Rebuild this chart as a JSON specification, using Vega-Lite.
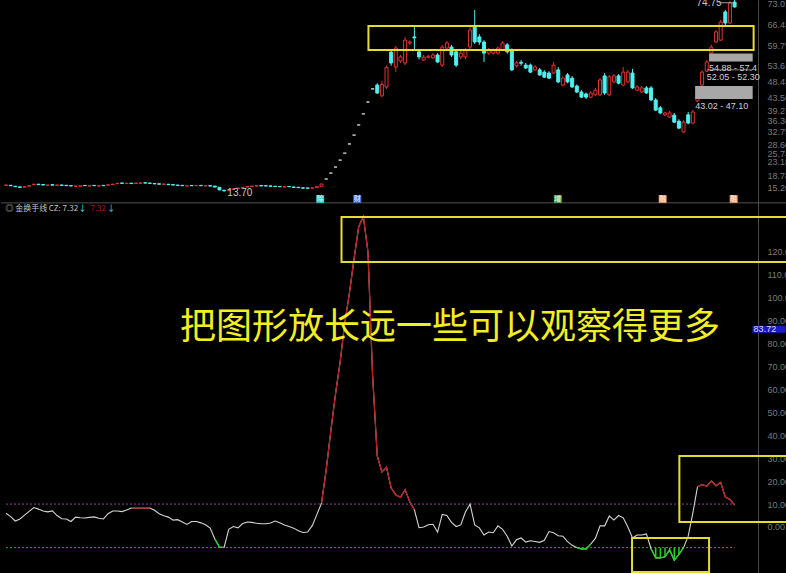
{
  "$schema": "https://vega.github.io/schema/vega-lite/v6.json",
  "width": 786,
  "height": 573,
  "autosize": "none",
  "padding": 0,
  "background": "#000000",
  "config": {
    "view": {"stroke": null},
    "font": "Liberation Sans",
    "axis": {"domainColor": "#4a4a4a", "domainWidth": 1, "ticks": false, "labelColor": "#7a7a7a", "labelFontSize": 9, "labelPadding": 9, "grid": false, "labelAlign": "left", "labelBaseline": "middle", "labelOverlap": false, "labelFlush": false}
  },
  "datasets": {
    "k": [
      {"i":0,"o":15.7,"h":15.92,"l":15.62,"c":15.84},{"i":1,"o":15.75,"h":15.8,"l":15.52,"c":15.6},{"i":2,"o":15.45,"h":15.5,"l":15.22,"c":15.3},{"i":3,"o":15.25,"h":15.3,"l":15.03,"c":15.11},{"i":4,"o":15.16,"h":15.38,"l":15.08,"c":15.3},{"i":5,"o":15.45,"h":15.68,"l":15.38,"c":15.6},{"i":6,"o":15.95,"h":16.18,"l":15.88,"c":16.1},{"i":7,"o":16.1,"h":16.15,"l":15.87,"c":15.95},{"i":8,"o":15.98,"h":16.02,"l":15.76,"c":15.84},{"i":9,"o":15.72,"h":15.92,"l":15.66,"c":15.84},
      {"i":10,"o":15.94,"h":15.98,"l":15.72,"c":15.8},{"i":11,"o":15.72,"h":15.92,"l":15.66,"c":15.84},{"i":12,"o":15.84,"h":15.9,"l":15.62,"c":15.7},{"i":13,"o":15.75,"h":15.8,"l":15.55,"c":15.62},{"i":14,"o":15.66,"h":15.72,"l":15.48,"c":15.55},{"i":15,"o":15.42,"h":15.6,"l":15.36,"c":15.52},{"i":16,"o":15.48,"h":15.68,"l":15.42,"c":15.6},{"i":17,"o":15.7,"h":15.76,"l":15.55,"c":15.62},{"i":18,"o":15.52,"h":15.7,"l":15.46,"c":15.62},{"i":19,"o":15.72,"h":15.78,"l":15.55,"c":15.62},
      {"i":20,"o":15.52,"h":15.7,"l":15.46,"c":15.62},{"i":21,"o":15.72,"h":15.78,"l":15.55,"c":15.62},{"i":22,"o":15.78,"h":15.98,"l":15.72,"c":15.9},{"i":23,"o":15.98,"h":16.18,"l":15.92,"c":16.1},{"i":24,"o":16.25,"h":16.45,"l":16.18,"c":16.37},{"i":25,"o":16.48,"h":16.52,"l":16.3,"c":16.37},{"i":26,"o":16.3,"h":16.48,"l":16.24,"c":16.4},{"i":27,"o":16.42,"h":16.5,"l":16.22,"c":16.3},{"i":28,"o":16.33,"h":16.53,"l":16.27,"c":16.45},{"i":29,"o":16.38,"h":16.55,"l":16.3,"c":16.47},
      {"i":30,"o":16.55,"h":16.6,"l":16.38,"c":16.45},{"i":31,"o":16.46,"h":16.5,"l":16.28,"c":16.35},{"i":32,"o":16.32,"h":16.38,"l":16.12,"c":16.2},{"i":33,"o":16.22,"h":16.28,"l":16.02,"c":16.1},{"i":34,"o":16.05,"h":16.22,"l":15.98,"c":16.15},{"i":35,"o":16.08,"h":16.14,"l":15.88,"c":15.95},{"i":36,"o":15.95,"h":16.0,"l":15.76,"c":15.84},{"i":37,"o":15.82,"h":15.88,"l":15.62,"c":15.7},{"i":38,"o":15.74,"h":15.8,"l":15.55,"c":15.62},{"i":39,"o":15.55,"h":15.7,"l":15.48,"c":15.62},
      {"i":40,"o":15.7,"h":15.76,"l":15.55,"c":15.62},{"i":41,"o":15.6,"h":15.78,"l":15.54,"c":15.7},{"i":42,"o":15.72,"h":15.78,"l":15.55,"c":15.62},{"i":43,"o":15.55,"h":15.7,"l":15.48,"c":15.62},{"i":44,"o":15.62,"h":15.68,"l":15.44,"c":15.52},{"i":45,"o":15.5,"h":15.55,"l":15.12,"c":15.2},{"i":46,"o":15.1,"h":15.15,"l":14.2,"c":14.3},{"i":47,"o":14.2,"h":14.3,"l":13.7,"c":14.03},{"i":48,"o":14.05,"h":14.5,"l":13.98,"c":14.4},{"i":49,"o":14.45,"h":14.68,"l":14.38,"c":14.6},
      {"i":50,"o":14.7,"h":14.98,"l":14.62,"c":14.9},{"i":51,"o":14.98,"h":15.18,"l":14.9,"c":15.1},{"i":52,"o":15.2,"h":15.42,"l":15.12,"c":15.35},{"i":53,"o":15.38,"h":15.58,"l":15.3,"c":15.5},{"i":54,"o":15.5,"h":15.68,"l":15.44,"c":15.6},{"i":55,"o":15.66,"h":15.72,"l":15.48,"c":15.55},{"i":56,"o":15.6,"h":15.66,"l":15.45,"c":15.52},{"i":57,"o":15.55,"h":15.6,"l":15.38,"c":15.45},{"i":58,"o":15.44,"h":15.5,"l":15.28,"c":15.35},{"i":59,"o":15.38,"h":15.44,"l":15.22,"c":15.3},
      {"i":60,"o":15.22,"h":15.38,"l":15.16,"c":15.3},{"i":61,"o":15.38,"h":15.44,"l":15.22,"c":15.3},{"i":62,"o":15.22,"h":15.28,"l":15.02,"c":15.1},{"i":63,"o":15.12,"h":15.18,"l":14.92,"c":15.0},{"i":64,"o":14.95,"h":15.0,"l":14.78,"c":14.85},{"i":65,"o":14.9,"h":14.96,"l":14.72,"c":14.8},{"i":66,"o":14.82,"h":15.02,"l":14.76,"c":14.95},{"i":67,"o":14.98,"h":15.5,"l":14.92,"c":15.4},{"i":68,"o":15.45,"h":16.25,"l":15.4,"c":16.15},{"i":69,"o":17.73,"h":17.73,"l":17.73,"c":17.73},
      {"i":70,"o":19.6,"h":19.6,"l":19.6,"c":19.6},{"i":71,"o":21.5,"h":21.5,"l":21.5,"c":21.5},{"i":72,"o":23.7,"h":23.7,"l":23.7,"c":23.7},{"i":73,"o":25.9,"h":25.9,"l":25.9,"c":25.9},{"i":74,"o":28.8,"h":28.8,"l":28.8,"c":28.8},{"i":75,"o":31.6,"h":31.6,"l":31.6,"c":31.6},{"i":76,"o":34.8,"h":34.8,"l":34.8,"c":34.8},{"i":77,"o":38.3,"h":38.3,"l":38.3,"c":38.3},{"i":78,"o":42.05,"h":42.05,"l":42.05,"c":42.05},{"i":79,"o":46.2,"h":46.2,"l":46.2,"c":46.2},
      {"i":80,"o":47.4,"h":48.0,"l":44.6,"c":44.9},{"i":81,"o":44.0,"h":48.6,"l":43.6,"c":47.6},{"i":82,"o":46.8,"h":53.5,"l":46.2,"c":53.0},{"i":83,"o":57.8,"h":58.5,"l":53.5,"c":54.4},{"i":84,"o":53.1,"h":59.8,"l":51.6,"c":59.1},{"i":85,"o":55.0,"h":56.9,"l":54.4,"c":56.3},{"i":86,"o":54.4,"h":62.6,"l":53.7,"c":61.6},{"i":87,"o":60.7,"h":61.5,"l":60.0,"c":61.0},{"i":88,"o":62.6,"h":65.7,"l":58.5,"c":62.3},{"i":89,"o":57.9,"h":58.8,"l":55.5,"c":56.3},
      {"i":90,"o":55.3,"h":56.9,"l":55.0,"c":56.2},{"i":91,"o":56.2,"h":56.9,"l":55.8,"c":56.5},{"i":92,"o":56.0,"h":57.5,"l":55.6,"c":56.9},{"i":93,"o":56.9,"h":57.5,"l":54.4,"c":54.7},{"i":94,"o":53.7,"h":60.1,"l":53.1,"c":59.4},{"i":95,"o":59.1,"h":61.3,"l":58.5,"c":60.7},{"i":96,"o":59.4,"h":60.1,"l":56.3,"c":56.9},{"i":97,"o":57.9,"h":58.5,"l":53.1,"c":53.7},{"i":98,"o":56.3,"h":58.2,"l":55.6,"c":57.5},{"i":99,"o":56.3,"h":59.1,"l":55.6,"c":58.5},
      {"i":100,"o":59.4,"h":65.7,"l":58.8,"c":64.8},{"i":101,"o":65.7,"h":71.1,"l":60.4,"c":61.0},{"i":102,"o":62.6,"h":63.5,"l":60.1,"c":61.0},{"i":103,"o":61.0,"h":61.6,"l":54.7,"c":57.5},{"i":104,"o":57.5,"h":59.1,"l":57.0,"c":58.5},{"i":105,"o":57.5,"h":59.0,"l":57.0,"c":58.5},{"i":106,"o":57.5,"h":59.6,"l":57.0,"c":59.1},{"i":107,"o":58.5,"h":61.3,"l":58.2,"c":60.7},{"i":108,"o":60.1,"h":60.7,"l":57.3,"c":57.9},{"i":109,"o":58.5,"h":59.0,"l":51.8,"c":52.2},
      {"i":110,"o":53.5,"h":55.0,"l":53.0,"c":54.4},{"i":111,"o":54.6,"h":55.3,"l":53.5,"c":54.3},{"i":112,"o":53.7,"h":54.4,"l":52.5,"c":52.8},{"i":113,"o":53.7,"h":54.2,"l":51.2,"c":51.5},{"i":114,"o":52.2,"h":53.7,"l":51.8,"c":53.1},{"i":115,"o":52.2,"h":52.8,"l":50.3,"c":50.6},{"i":116,"o":51.5,"h":52.1,"l":49.6,"c":49.9},{"i":117,"o":51.2,"h":51.8,"l":49.3,"c":49.6},{"i":118,"o":51.2,"h":54.7,"l":50.9,"c":53.7},{"i":119,"o":52.2,"h":53.1,"l":48.0,"c":48.4},
      {"i":120,"o":47.4,"h":50.2,"l":47.0,"c":49.6},{"i":121,"o":50.6,"h":51.2,"l":48.0,"c":48.4},{"i":122,"o":49.6,"h":50.2,"l":46.5,"c":46.8},{"i":123,"o":47.1,"h":47.6,"l":44.9,"c":45.2},{"i":124,"o":45.2,"h":45.8,"l":43.3,"c":43.6},{"i":125,"o":44.6,"h":45.0,"l":43.0,"c":43.6},{"i":126,"o":43.6,"h":45.5,"l":43.3,"c":44.9},{"i":127,"o":44.3,"h":46.5,"l":44.0,"c":45.8},{"i":128,"o":44.3,"h":49.6,"l":44.0,"c":49.0},{"i":129,"o":50.3,"h":51.2,"l":44.3,"c":44.9},
      {"i":130,"o":44.3,"h":50.6,"l":43.9,"c":50.0},{"i":131,"o":48.4,"h":50.9,"l":48.0,"c":50.3},{"i":132,"o":50.3,"h":50.9,"l":47.6,"c":48.0},{"i":133,"o":47.4,"h":53.1,"l":47.0,"c":51.5},{"i":134,"o":48.4,"h":52.2,"l":48.0,"c":51.5},{"i":135,"o":51.2,"h":52.5,"l":46.2,"c":46.5},{"i":136,"o":45.8,"h":47.4,"l":45.5,"c":46.8},{"i":137,"o":45.2,"h":47.1,"l":44.9,"c":46.5},{"i":138,"o":46.5,"h":47.1,"l":44.6,"c":44.9},{"i":139,"o":46.5,"h":47.1,"l":42.3,"c":42.7},
      {"i":140,"o":42.7,"h":43.3,"l":39.2,"c":39.5},{"i":141,"o":40.2,"h":40.8,"l":38.2,"c":38.6},{"i":142,"o":38.0,"h":39.0,"l":37.6,"c":38.6},{"i":143,"o":37.3,"h":39.2,"l":37.0,"c":38.6},{"i":144,"o":37.9,"h":38.6,"l":35.4,"c":35.7},{"i":145,"o":36.0,"h":36.6,"l":33.5,"c":33.8},{"i":146,"o":32.6,"h":36.3,"l":32.3,"c":35.7},{"i":147,"o":38.0,"h":38.9,"l":35.0,"c":35.4},{"i":148,"o":35.4,"h":39.5,"l":35.0,"c":38.9},{"i":149,"o":42.4,"h":46.8,"l":42.0,"c":46.2},
      {"i":150,"o":47.4,"h":52.0,"l":47.1,"c":51.5},{"i":151,"o":51.8,"h":55.3,"l":51.5,"c":54.7},{"i":152,"o":57.5,"h":60.1,"l":55.5,"c":59.4},{"i":153,"o":61.0,"h":64.8,"l":60.7,"c":64.2},{"i":154,"o":61.6,"h":68.0,"l":61.3,"c":67.3},{"i":155,"o":70.5,"h":71.1,"l":66.0,"c":67.0},{"i":156,"o":67.0,"h":74.0,"l":66.7,"c":73.3},{"i":157,"o":73.6,"h":74.75,"l":71.8,"c":72.1}
    ],
    "cz": [
      {"i":0,"v":6.0},{"i":1,"v":4.5},{"i":2,"v":2.6},{"i":3,"v":3.5},{"i":4,"v":5.2},{"i":5,"v":6.8},{"i":6,"v":8.5},{"i":7,"v":7.8},{"i":8,"v":7.0},{"i":9,"v":6.6},
      {"i":10,"v":7.0},{"i":11,"v":5.0},{"i":12,"v":3.6},{"i":13,"v":3.5},{"i":14,"v":2.4},{"i":15,"v":4.3},{"i":16,"v":4.0},{"i":17,"v":3.9},{"i":18,"v":4.2},{"i":19,"v":4.4},
      {"i":20,"v":3.8},{"i":21,"v":3.5},{"i":22,"v":5.8},{"i":23,"v":7.0},{"i":24,"v":7.0},{"i":25,"v":6.7},{"i":26,"v":7.4},{"i":27,"v":8.3,"s":"r1"},{"i":28,"v":8.4,"s":"r1"},{"i":29,"v":8.3,"s":"r1"},
      {"i":30,"v":8.4,"s":"r1"},{"i":31,"v":8.3,"s":"r1"},{"i":32,"v":7.3},{"i":33,"v":5.8},{"i":34,"v":4.9},{"i":35,"v":4.3},{"i":36,"v":3.0},{"i":37,"v":3.2},{"i":38,"v":2.2},{"i":39,"v":1.1},
      {"i":40,"v":2.4},{"i":41,"v":2.4},{"i":42,"v":1.8},{"i":43,"v":1.0},{"i":44,"v":-0.5},{"i":45,"v":-5.2,"s":"g1"},{"i":46,"v":-8.8,"s":"g1"},{"i":47,"v":-8.9,"s":"g1"},{"i":48,"v":-1.0},{"i":49,"v":0.2},
      {"i":50,"v":-0.4},{"i":51,"v":1.5},{"i":52,"v":2.2},{"i":53,"v":2.0},{"i":54,"v":1.6},{"i":55,"v":1.4},{"i":56,"v":1.4},{"i":57,"v":1.7},{"i":58,"v":2.6},{"i":59,"v":1.8},
      {"i":60,"v":0.9},{"i":61,"v":0.2},{"i":62,"v":-0.5},{"i":63,"v":-1.6},{"i":64,"v":-2.4},{"i":65,"v":-2.2},{"i":66,"v":0.6},{"i":67,"v":5.5},{"i":68,"v":10.5,"s":"r2"},{"i":69,"v":25,"s":"r2"},
      {"i":70,"v":42,"s":"r2"},{"i":71,"v":58,"s":"r2"},{"i":72,"v":72,"s":"r2"},{"i":73,"v":89,"s":"r2"},{"i":74,"v":102,"s":"r2"},{"i":75,"v":117,"s":"r2"},{"i":76,"v":131,"s":"r2"},{"i":77,"v":135.5,"s":"r2"},{"i":78,"v":120,"s":"r2"},{"i":79,"v":66,"s":"r2"},
      {"i":80,"v":31,"s":"r2"},{"i":81,"v":24,"s":"r2"},{"i":82,"v":26,"s":"r2"},{"i":83,"v":17,"s":"r2"},{"i":84,"v":14,"s":"r2"},{"i":85,"v":13,"s":"r2"},{"i":86,"v":16.3,"s":"r2"},{"i":87,"v":11,"s":"r2"},{"i":88,"v":7.5,"s":"r2"},{"i":89,"v":-0.3},
      {"i":90,"v":0.0},{"i":91,"v":1.0},{"i":92,"v":1.2},{"i":93,"v":-2.2},{"i":94,"v":5.5},{"i":95,"v":5.0},{"i":96,"v":2.0},{"i":97,"v":0.2},{"i":98,"v":0.9},{"i":99,"v":6.5},
      {"i":100,"v":10.0},{"i":101,"v":0.9},{"i":102,"v":-0.4},{"i":103,"v":-3.5},{"i":104,"v":-2.2},{"i":105,"v":-2.5},{"i":106,"v":0.5},{"i":107,"v":-1.0},{"i":108,"v":-4.0},{"i":109,"v":-8.3},
      {"i":110,"v":-5.6},{"i":111,"v":-4.8},{"i":112,"v":-6.6},{"i":113,"v":-6.0},{"i":114,"v":-6.3},{"i":115,"v":-6.7},{"i":116,"v":-5.8},{"i":117,"v":-2.0},{"i":118,"v":-2.5},{"i":119,"v":-3.8},
      {"i":120,"v":-4.0},{"i":121,"v":-6.4},{"i":122,"v":-8.0},{"i":123,"v":-9.0,"s":"g2"},{"i":124,"v":-9.6,"s":"g2"},{"i":125,"v":-9.6,"s":"g2"},{"i":126,"v":-7.5,"s":"g2"},{"i":127,"v":-5.0},{"i":128,"v":0.5},{"i":129,"v":0.5},
      {"i":130,"v":4.8},{"i":131,"v":3.0},{"i":132,"v":5.0},{"i":133,"v":4.0},{"i":134,"v":0.0},{"i":135,"v":-4.8},{"i":136,"v":-3.5},{"i":137,"v":-3.5},{"i":138,"v":-3.0},{"i":139,"v":-9.5,"s":"g3"},
      {"i":140,"v":-13.5,"s":"g3"},{"i":141,"v":-13.5,"s":"g3"},{"i":142,"v":-13.0,"s":"g3"},{"i":143,"v":-10.0,"s":"g3"},{"i":144,"v":-14.5,"s":"g3"},{"i":145,"v":-12.0,"s":"g3"},{"i":146,"v":-9.0,"s":"g3"},{"i":147,"v":-4.0},{"i":148,"v":6.0},{"i":149,"v":17.5,"s":"r3"},
      {"i":150,"v":18.5,"s":"r3"},{"i":151,"v":17.8,"s":"r3"},{"i":152,"v":20.0,"s":"r3"},{"i":153,"v":18.0,"s":"r3"},{"i":154,"v":19.5,"s":"r3"},{"i":155,"v":13.0,"s":"r3"},{"i":156,"v":12.0,"s":"r3"},{"i":157,"v":9.6,"s":"r3"}
    ],
    "zones": [
      {"lo":54.88,"hi":57.4,"label":"54.88 - 57.4","from":151.5},
      {"lo":52.05,"hi":52.30,"label":"52.05 - 52.30","from":151.0},
      {"lo":43.02,"hi":47.10,"label":"43.02 - 47.10","from":148.5}
    ],
    "flags": [
      {"i":67.7,"t":"除"},{"i":75.7,"t":"财"},{"i":118.9,"t":"增"},{"i":141.5,"t":"融"},{"i":156.8,"t":"融"}
    ],
    "boxes": [
      {"x1":72.3,"x2":170,"y1":115.6,"y2":135.3},
      {"x1":145.1,"x2":170,"y1":2.2,"y2":31.0},
      {"x1":134.9,"x2":151.5,"y1":-19.6,"y2":-4.8}
    ],
    "header": [
      {"t":"◎ 金换手线","x":-0.1,"k":"cjk"},
      {"t":"CZ: 7.32","x":9.2,"k":"w"},
      {"t":"↓","x":15.6,"k":"a"},
      {"t":"7.32","x":18.2,"k":"r"},
      {"t":"↓","x":21.8,"k":"a"}
    ]
  },
  "layer": [
    {
      "data": {"name": "k"},
      "mark": {"type": "rule", "strokeWidth": 1},
      "encoding": {
        "x": {"field": "i", "type": "quantitative", "scale": {"domain": [-0.213, 167.0], "nice": false, "zero": false}, "axis": null},
        "y": {"field": "l", "type": "quantitative", "title": null, "scale": {"domain": [-106.7, 74.27], "nice": false, "zero": false},
              "axis": {"orient": "right", "offset": -28, "values": [73.01, 66.43, 59.79, 53.61, 48.43, 43.56, 39.27, 36.36, 32.75, 28.60, 25.74, 23.18, 18.78, 15.20], "format": ".2f"}},
        "y2": {"field": "h"},
        "color": {"condition": [{"test": "datum.c > datum.o", "value": "#e03232"}, {"test": "datum.c < datum.o", "value": "#50f0f0"}], "value": "#c8c8c8"}
      }
    },
    {
      "data": {"name": "k"},
      "mark": {"type": "bar", "width": 3, "strokeWidth": 1},
      "encoding": {
        "x": {"field": "i", "type": "quantitative", "axis": null},
        "y": {"field": "o", "type": "quantitative", "title": null, "scale": {"domain": [-106.7, 74.27], "nice": false, "zero": false}, "axis": null},
        "y2": {"field": "c"},
        "fill": {"condition": [{"test": "datum.c > datum.o", "value": "#000000"}, {"test": "datum.c < datum.o", "value": "#50f0f0"}], "value": "#c8c8c8"},
        "stroke": {"condition": [{"test": "datum.c > datum.o", "value": "#e03232"}, {"test": "datum.c < datum.o", "value": "#50f0f0"}], "value": "#c8c8c8"}
      }
    },
    {
      "data": {"name": "zones"},
      "mark": {"type": "rect", "color": "#a8a8a8"},
      "encoding": {
        "x": {"field": "from", "type": "quantitative", "axis": null},
        "x2": {"datum": 160.9},
        "y": {"field": "hi", "type": "quantitative", "title": null, "scale": {"domain": [-106.7, 74.27], "nice": false, "zero": false}, "axis": null},
        "y2": {"field": "lo"}
      }
    },
    {
      "data": {"name": "zones"},
      "mark": {"type": "text", "align": "left", "baseline": "middle", "dy": 7, "fontSize": 9, "color": "#d0d0d0"},
      "encoding": {
        "x": {"field": "from", "type": "quantitative", "axis": null},
        "y": {"field": "lo", "type": "quantitative", "title": null, "scale": {"domain": [-106.7, 74.27], "nice": false, "zero": false}, "axis": null},
        "text": {"field": "label"}
      }
    },
    {
      "data": {"values": [{"a": 78.1, "b": 161.1, "lo": 58.48, "hi": 66.06}]},
      "mark": {"type": "rect", "fillOpacity": 0, "stroke": "#e4dc30", "strokeWidth": 2},
      "encoding": {
        "x": {"field": "a", "type": "quantitative", "axis": null},
        "x2": {"field": "b"},
        "y": {"field": "hi", "type": "quantitative", "title": null, "scale": {"domain": [-106.7, 74.27], "nice": false, "zero": false}, "axis": null},
        "y2": {"field": "lo"}
      }
    },
    {
      "data": {"values": [{"t": "74.75", "x": 151.5, "p": 73.2}, {"t": "13.70", "x": 50.4, "p": 13.4}]},
      "mark": {"type": "text", "align": "center", "baseline": "middle", "fontSize": 10, "color": "#c8c8c8"},
      "encoding": {
        "x": {"field": "x", "type": "quantitative", "axis": null},
        "y": {"field": "p", "type": "quantitative", "title": null, "scale": {"domain": [-106.7, 74.27], "nice": false, "zero": false}, "axis": null},
        "text": {"field": "t"}
      }
    },
    {
      "data": {"values": [{"a": 153.6, "b": 156.6, "p": 73.4}]},
      "mark": {"type": "rule", "color": "#a0a0a0", "strokeWidth": 1},
      "encoding": {
        "x": {"field": "a", "type": "quantitative", "axis": null},
        "x2": {"field": "b"},
        "y": {"field": "p", "type": "quantitative", "title": null, "scale": {"domain": [-106.7, 74.27], "nice": false, "zero": false}, "axis": null}
      }
    },
    {
      "data": {"values": [{"a": -1, "b": 170, "p": 10.2}]},
      "mark": {"type": "rule", "color": "#505050", "strokeWidth": 1},
      "encoding": {
        "x": {"field": "a", "type": "quantitative", "axis": null},
        "x2": {"field": "b"},
        "y": {"field": "p", "type": "quantitative", "title": null, "scale": {"domain": [-106.7, 74.27], "nice": false, "zero": false}, "axis": null}
      }
    },
    {
      "data": {"name": "flags"},
      "mark": {"type": "square", "size": 64, "filled": true, "opacity": 1},
      "encoding": {
        "x": {"field": "i", "type": "quantitative", "axis": null},
        "y": {"datum": 11.4, "type": "quantitative", "title": null, "scale": {"domain": [-106.7, 74.27], "nice": false, "zero": false}, "axis": null},
        "color": {"condition": [{"test": "datum.t === '除'", "value": "#2ab4c4"}, {"test": "datum.t === '财'", "value": "#3a6cd8"}, {"test": "datum.t === '增'", "value": "#3fa046"}], "value": "#e88a50"}
      }
    },
    {
      "data": {"name": "flags"},
      "mark": {"type": "text", "fontSize": 7, "color": "#ffffff", "font": "Noto Sans CJK SC", "baseline": "middle", "align": "center"},
      "encoding": {
        "x": {"field": "i", "type": "quantitative", "axis": null},
        "y": {"datum": 11.4, "type": "quantitative", "title": null, "scale": {"domain": [-106.7, 74.27], "nice": false, "zero": false}, "axis": null},
        "text": {"field": "t"}
      }
    },
    {
      "data": {"values": [{"a": 0, "b": 157, "v": 10}]},
      "mark": {"type": "rule", "color": "#a034a8", "strokeWidth": 1, "strokeDash": [2, 2]},
      "encoding": {
        "x": {"field": "a", "type": "quantitative", "axis": null},
        "x2": {"field": "b"},
        "y": {"field": "v", "type": "quantitative", "title": null, "scale": {"domain": [-20.08, 229.96], "nice": false, "zero": false},
              "axis": {"orient": "right", "offset": -28, "values": [0, 10, 20, 30, 40, 50, 60, 70, 80, 90, 100, 110, 120], "format": ".2f"}}
      }
    },
    {
      "data": {"values": [{"a": 0, "b": 157, "v": -9}]},
      "mark": {"type": "rule", "color": "#22a82a", "strokeWidth": 1, "strokeDash": [2, 2]},
      "encoding": {
        "x": {"field": "a", "type": "quantitative", "axis": null},
        "x2": {"field": "b"},
        "y": {"field": "v", "type": "quantitative", "title": null, "scale": {"domain": [-20.08, 229.96], "nice": false, "zero": false}, "axis": null}
      }
    },
    {
      "data": {"name": "cz"},
      "transform": [{"filter": "datum.v < -9"}],
      "mark": {"type": "rule", "color": "#22d022", "strokeWidth": 1.5},
      "encoding": {
        "x": {"field": "i", "type": "quantitative", "axis": null},
        "y": {"field": "v", "type": "quantitative", "title": null, "scale": {"domain": [-20.08, 229.96], "nice": false, "zero": false}, "axis": null},
        "y2": {"datum": -9}
      }
    },
    {
      "data": {"name": "cz"},
      "mark": {"type": "line", "color": "#d4d4d4", "strokeWidth": 1.1},
      "encoding": {
        "x": {"field": "i", "type": "quantitative", "axis": null},
        "y": {"field": "v", "type": "quantitative", "title": null, "scale": {"domain": [-20.08, 229.96], "nice": false, "zero": false}, "axis": null}
      }
    },
    {
      "data": {"name": "cz"},
      "transform": [{"filter": "isValid(datum.s)"}],
      "mark": {"type": "line", "strokeWidth": 1.3},
      "encoding": {
        "x": {"field": "i", "type": "quantitative", "axis": null},
        "y": {"field": "v", "type": "quantitative", "title": null, "scale": {"domain": [-20.08, 229.96], "nice": false, "zero": false}, "axis": null},
        "detail": {"field": "s", "type": "nominal"},
        "color": {"condition": {"test": "indexof(datum.s, 'r') === 0", "value": "#b81c1c"}, "value": "#22cc22"}
      }
    },
    {
      "data": {"name": "boxes"},
      "mark": {"type": "rect", "fillOpacity": 0, "stroke": "#e4dc30", "strokeWidth": 2},
      "encoding": {
        "x": {"field": "x1", "type": "quantitative", "axis": null},
        "x2": {"field": "x2"},
        "y": {"field": "y1", "type": "quantitative", "title": null, "scale": {"domain": [-20.08, 229.96], "nice": false, "zero": false}, "axis": null},
        "y2": {"field": "y2"}
      }
    },
    {
      "data": {"values": [{"t": "把图形放长远一些可以观察得更多", "x": 95.7, "v": 86.8}]},
      "mark": {"type": "text", "align": "center", "baseline": "middle", "fontSize": 36, "font": "Noto Sans CJK SC", "color": "#f2ee22"},
      "encoding": {
        "x": {"field": "x", "type": "quantitative", "axis": null},
        "y": {"field": "v", "type": "quantitative", "title": null, "scale": {"domain": [-20.08, 229.96], "nice": false, "zero": false}, "axis": null},
        "text": {"field": "t"}
      }
    },
    {
      "data": {"name": "header"},
      "mark": {"type": "text", "align": "left", "baseline": "middle", "fontSize": 8, "font": "Noto Sans CJK SC"},
      "encoding": {
        "x": {"field": "x", "type": "quantitative", "axis": null},
        "y": {"datum": 138.8, "type": "quantitative", "title": null, "scale": {"domain": [-20.08, 229.96], "nice": false, "zero": false}, "axis": null},
        "text": {"field": "t"},
        "color": {"condition": [{"test": "datum.k === 'a'", "value": "#40e0e0"}, {"test": "datum.k === 'r'", "value": "#b01818"}], "value": "#c4c4c4"}
      }
    },
    {
      "data": {"values": [{"a": 160.85, "b": 168, "hi": 87.8, "lo": 84.8}]},
      "mark": {"type": "rect", "color": "#1a1ac8"},
      "encoding": {
        "x": {"field": "a", "type": "quantitative", "axis": null},
        "x2": {"field": "b"},
        "y": {"field": "hi", "type": "quantitative", "title": null, "scale": {"domain": [-20.08, 229.96], "nice": false, "zero": false}, "axis": null},
        "y2": {"field": "lo"}
      }
    },
    {
      "data": {"values": [{"t": "83.72", "x": 161.1, "v": 86.3}]},
      "mark": {"type": "text", "align": "left", "baseline": "middle", "fontSize": 9, "color": "#dcdcff"},
      "encoding": {
        "x": {"field": "x", "type": "quantitative", "axis": null},
        "y": {"field": "v", "type": "quantitative", "title": null, "scale": {"domain": [-20.08, 229.96], "nice": false, "zero": false}, "axis": null},
        "text": {"field": "t"}
      }
    }
  ],
  "resolve": {"scale": {"y": "independent"}}
}
